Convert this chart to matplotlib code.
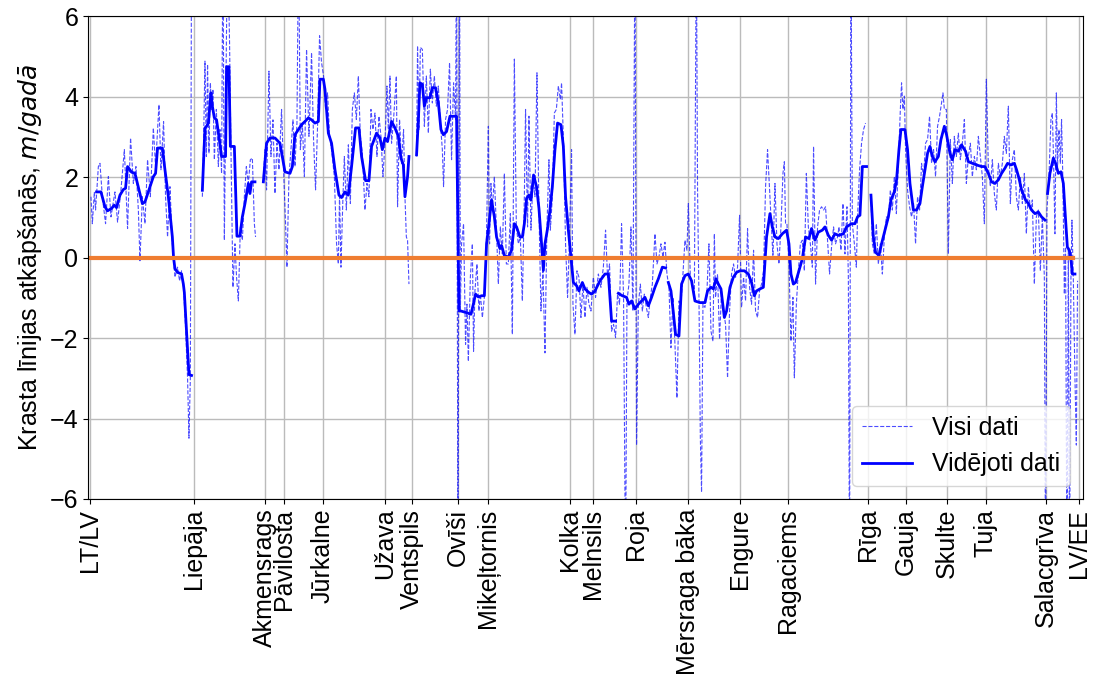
import numpy as np
import matplotlib
matplotlib.use('Agg')
import matplotlib.pyplot as plt

plt.rcParams['font.family'] = ['Liberation Sans', 'DejaVu Sans']
plt.rcParams['font.size'] = 18

nan = np.nan

# Place names along the coast and their distance from LT/LV border (km)
places = ['LT/LV', 'Liepāja', 'Akmensrags', 'Pāvilosta', 'Jūrkalne', 'Užava',
          'Ventspils', 'Ovīši', 'Mikeļtornis', 'Kolka', 'Melnsils', 'Roja',
          'Mērsraga bāka', 'Engure', 'Ragaciems', 'Rīga', 'Gauja', 'Skulte',
          'Tuja', 'Salacgrīva', 'LV/EE']
places_km = [0, 52, 87.5, 97, 116.5, 147.5, 161, 184, 199, 240, 251.5, 273,
             299, 325, 349, 389, 408, 428.5, 448, 478, 494.5]

# All data (m/year), values beyond +-6 are off the chart
raw_km = [
    0.5, 1.2, 2.2, 2.8, 4.2, 5.0, 6.2, 7.8, 9.2, 10.5, 12.5, 13.8, 15.5, 17.2,
    18.8, 20.3, 21.7, 23.0, 24.2, 25.0, 26.2, 27.5, 28.8, 30.2, 31.7, 32.8,
    34.5, 35.5, 36.8, 37.8, 38.8, 40.0, 41.2, 42.5, 43.8, 44.8, 45.8, 46.8,
    47.8, 48.8, 49.5, 50.2, 50.8, 53.0,
    56.2, 56.8, 57.5, 58.2, 58.8, 59.5, 60.2, 60.8, 61.5, 62.2, 63.2, 64.2,
    65.0, 65.8, 66.5, 67.2, 68.2, 68.8, 69.8, 70.5, 71.5, 72.5, 73.3, 74.2,
    75.2, 76.2, 77.2, 78.2, 79.2, 80.2, 81.2, 82.2, 82.8, 84.5,
    86.7, 87.5, 88.3, 89.5, 90.5, 91.5, 92.5, 93.5, 94.5, 95.8, 96.8, 97.8,
    98.5, 99.5, 100.5, 101.5, 102.5, 103.5, 104.3, 105.2, 106.2, 107.2, 108.3,
    109.5, 110.8, 111.8, 112.8, 113.8, 114.8, 115.8, 116.8, 117.8, 118.8,
    119.8, 120.8, 122.2, 123.3, 124.2, 124.8, 125.5,
    126.5, 127.2, 128.2, 129.2, 130.2, 131.2, 132.2, 133.2, 134.2, 135.2,
    136.2, 137.5, 138.5, 139.5, 140.5, 141.5, 142.5, 143.5, 144.5, 145.5,
    146.5, 147.5, 148.5, 149.2, 150.0, 150.8, 151.8, 153.2, 153.8, 154.8,
    155.8, 156.8, 157.5, 158.2, 158.8, 159.5, 161.0,
    163.3, 163.8, 164.5, 165.2, 166.2, 167.2, 168.2, 169.2, 170.2, 171.2,
    172.2, 173.2, 174.2, 175.2, 176.2, 176.8, 177.8, 178.8, 179.8, 180.8,
    181.8, 182.8, 183.3, 184.0, 184.8, 185.2, 185.8, 186.8, 187.8, 188.5,
    189.2, 190.2, 191.2, 191.8, 192.5, 193.5, 194.5, 195.2, 196.2, 197.2,
    198.2, 199.2, 199.8, 200.5, 201.2, 202.2, 203.2, 204.2, 205.2, 206.2,
    207.2, 208.2, 209.2, 210.2, 211.2, 212.2, 213.2, 214.2, 215.2, 216.2,
    217.2, 217.8, 218.8, 219.5, 220.5, 221.5, 222.5, 223.5, 224.5, 225.5,
    226.5, 227.5, 228.5, 229.5, 230.2, 231.2, 232.2, 233.2, 234.2, 235.2,
    235.8, 236.8, 237.8, 238.8, 239.8, 240.8, 241.5, 242.5, 243.5, 244.5,
    245.5, 246.5, 247.5, 248.5, 249.5,
    250.5, 251.7, 252.8, 254.2, 255.5, 256.7, 257.8, 258.8, 259.8, 260.8,
    261.8, 262.8, 263.8, 264.8, 265.8, 266.8, 267.8, 268.5, 269.5, 270.5,
    271.5, 272.5, 273.3, 274.2, 275.2, 276.2, 277.2, 278.2, 279.2, 280.2,
    281.2, 282.5, 283.5, 284.5, 285.5, 286.5, 287.5, 288.5, 289.5, 290.5,
    291.5, 292.5, 293.5, 294.5, 295.5, 296.5, 297.5, 298.5, 299.2, 300.2,
    301.2, 302.2, 303.2, 303.8, 304.5, 305.2, 305.8, 306.5, 307.5, 308.5,
    309.5, 310.5, 311.5, 312.2, 312.8, 313.8, 314.8, 315.8, 316.8, 317.8,
    318.8, 319.8, 320.8, 321.8, 322.8, 323.8, 324.8, 325.8, 326.8, 327.8,
    328.8, 329.8, 330.8, 331.8, 332.8, 333.8, 334.8, 335.8, 336.8, 337.8,
    338.8, 339.5, 340.5, 341.5, 342.5, 343.5, 344.5, 345.5, 346.5, 347.2,
    347.8, 348.5, 349.5, 350.5, 351.5, 352.2, 353.2, 354.2, 355.2, 356.2,
    357.2, 358.2, 359.2, 360.2, 361.2, 361.8, 362.8, 363.8, 364.8, 365.8,
    366.8, 367.8, 368.8, 369.8, 370.8, 371.8, 372.8, 373.8,
    374.5, 375.5, 376.5, 377.5, 378.5, 379.2, 379.8, 380.5, 381.2, 382.2,
    383.2, 383.8, 384.8, 385.8, 386.8, 387.8, 389.0,
    390.5, 391.2, 392.2, 393.2, 394.2, 395.2, 396.2, 397.2, 398.2, 399.2,
    400.2, 401.2, 402.2, 403.2, 404.2, 405.2, 405.8, 406.5, 407.2, 407.8,
    408.8, 409.8, 410.8, 411.8, 412.8, 413.8, 414.8, 415.8, 416.8, 417.8,
    418.8, 419.8, 420.8, 421.8, 422.8, 423.8, 424.8, 425.8, 426.5, 427.2,
    428.2, 429.2, 430.2, 431.2, 432.2, 433.2, 434.2, 435.2, 436.2, 437.2,
    438.2, 439.2, 440.2, 441.2, 442.2, 443.2, 444.2, 445.2, 446.2, 447.2,
    448.2, 449.2, 450.2, 451.2, 452.2, 453.2, 454.2, 455.2, 456.2, 457.2,
    458.2, 459.2, 460.2, 461.2, 462.2, 463.2, 464.2, 465.2, 466.2, 467.2,
    468.2, 469.2, 470.2, 471.2, 472.2, 473.2, 474.2, 475.2, 476.2, 477.2,
    477.8, 478.5, 479.5, 480.5, 481.2, 481.8, 482.5, 483.2, 483.8, 484.5,
    485.2, 485.8, 486.5, 487.2, 487.8, 488.5, 489.2, 489.8, 490.5, 491.0,
    491.7, 492.5, 493.2, 493.8]
raw_val = [
    1.51, 0.84, 1.63, 1.18, 2.26, 2.34, 1.51, 0.84, 2.01, 1.01, 1.63, 0.88, 1.68, 2.68,
    0.72, 2.97, 1.84, 2.26, 1.18, -0.08, 1.51, 0.84, 2.43, 1.51, 3.22, 2.26,
    3.80, 2.18, 3.38, 1.51, 0.51, 1.76, 0.34, -0.49, -0.24, -0.58, -0.33, -0.74,
    -1.74, -2.99, -4.49, -2.99, 8.0, nan,
    1.51, 2.84, 4.88, 2.51, 4.80, 2.59, 4.34, 3.68, 4.18, 2.43, 3.68, 2.26,
    3.18, 2.09, 8.0, 0.43, 5.34, 8.0, 5.34, 2.68, -0.74, 0.34, -0.49, -1.08,
    0.76, 0.43, 1.51, 2.26, 1.84, 2.43, 2.47, 0.84, 0.51, nan,
    2.01, 2.68, 1.68, 4.63, 2.51, 3.42, 1.59, 2.84, 2.18, 3.68, 2.18, 0.84,
    -0.24, 2.01, 2.68, 3.42, 2.26, 3.34, 8.0, 2.68, 3.34, 2.01, 5.17,
    3.01, 5.09, 2.93, 1.68, 3.26, 5.51, 4.84, 4.51, 3.68, 4.09,
    3.01, 2.68, 2.01, 0.34, -0.16, 1.59, -0.24,
    1.51, 2.51, 1.18, 2.80, 1.34, 3.68, 4.09, 3.43, 4.51, 3.01,
    2.59, 1.18, 1.84, 1.51, 3.68, 3.18, 3.59, 2.51, 3.51, 3.01,
    2.01, 2.84, 4.26, 3.18, 4.51, 2.84, 3.43, 4.51, 1.26, 3.43,
    2.34, 3.18, 1.51, 0.51, 0.43, -0.66, nan,
    2.51, 5.26, 3.18, 5.22, 5.17, 3.26, 4.51, 3.09, 4.68, 3.84,
    4.51, 3.76, 4.26, 3.34, 2.68, 1.76, 3.43, 3.68, 4.84, 2.43,
    4.34, 3.43, 8.0, -8.0, 8.0, -1.33, 0.34, 0.84, -2.16, -1.16,
    -2.58, -0.49, 0.34, -2.33, -0.83, -0.16, -1.33, -0.91, -1.49, -0.99,
    0.34, 3.26, 0.34, 1.84, 1.18, 2.01, 0.76, -0.66, 0.76, 0.09,
    2.09, -0.16, -0.16, 1.09, -1.91, 4.93, 0.76, 0.34, 0.51, -1.08,
    1.51, 3.68, 0.76, 3.51, 0.68, 1.93, 1.51, 4.59, 1.18, -1.33,
    -0.33, -2.37, 0.76, 2.43, 0.68, 1.51, 3.59, 3.68, 4.26, 3.93,
    4.34, 2.84, 0.34, -0.99, 0.51, 2.68, -1.16, -1.91, -0.33, -0.49,
    -1.49, -0.66, -1.49, -0.74, -1.16,
    -1.33, -0.49, -0.99, -0.41, -0.74, -0.24, 0.68, -0.49, -0.16, -1.83,
    -1.66, -1.99, -0.91, -1.16, 0.84, -0.99, -8.0, -1.08, -0.66, 0.76,
    -1.33, 8.0, -4.66, -1.16, -0.66, -1.33, -0.91, -1.24, -1.49, -0.99,
    -0.66, 0.59, -0.16, 0.01, 0.34, 0.01, 0.38, -0.41, -0.74, -2.24,
    -0.99, -2.16, -3.49, -1.08, -1.16, -0.41, 0.43, 0.18, 1.34, -0.49,
    -0.66, -0.99, 8.0, 1.68, -0.99, -4.49, -5.83, -1.16, -1.24, -0.83,
    0.34, -1.83, -2.08, 0.59, -0.99, -0.41, -2.03, -0.83, -1.33, -1.66,
    -2.99, -1.33, -0.41, -0.16, -0.49, -0.24, 1.05, -1.24, -0.49, -1.08,
    0.72, -0.74, -1.16, 0.18, -1.33, -1.49, -0.83, -0.66, -0.33, 1.76,
    2.68, 2.01, 1.01, 0.01, 1.84, 0.34, -0.16, 0.76, 2.09, 2.38,
    0.84, 0.84, -0.16, -2.08, -0.99, -2.99, -1.16, -0.33, 0.34, 0.43,
    -0.33, 2.09, 0.76, 0.34, -0.24, 2.76, -0.66, 0.76, 1.18, 1.26,
    1.18, 1.26, 0.43, -0.41, 0.26, 0.76, 0.34, 0.51,
    0.76, 0.18, 1.34, 0.09, 1.26, -0.49, -8.0, 8.0, 0.84, 0.34,
    -0.24, 1.01, 2.18, 2.84, 3.18, 3.34, nan,
    1.51, 0.34, 0.09, 0.84, -0.16, 0.34, -0.41, 0.51, 1.01, 0.93,
    1.68, 1.18, 2.01, 1.09, 2.34, 3.68, 4.34, 3.68, 4.01, 2.68,
    1.68, 1.26, 1.01, 1.34, 0.34, 1.51, 1.18, 2.34, 2.01, 2.84,
    2.93, 3.51, 2.34, 2.68, 2.01, 3.26, 3.51, 3.84, 4.09, 3.68,
    3.68, 0.09, 2.93, 1.84, 3.01, 2.51, 3.09, 2.43, 2.84, 3.43,
    1.84, 2.51, 2.84, 2.01, 2.51, 2.18, 3.01, 2.51, 2.01, 0.84,
    4.43, 2.26, 1.76, 2.43, 1.59, 1.18, 2.34, 2.01, 2.34, 3.01,
    2.59, 3.76, 1.34, 2.43, 2.68, 1.51, 1.18, 2.01, 1.34, 2.09,
    0.59, 1.76, 1.18, 1.43, -0.66, 1.01, 1.18, -0.33, 1.01, -0.49,
    -8.0, 1.18, 2.01, 3.43, 3.59, 2.43, 0.59, 4.09, 2.26, 3.18,
    2.34, 3.43, 1.84, -0.91, 0.26, -8.0, 0.18, -8.0, -0.49, 0.93,
    -0.58, -2.99, -4.66, -0.58]

# Averaged data (m/year), nan marks gaps
avg_km = [
    3.3, 5.5, 7.5, 8.8, 10.8, 12.2, 13.3, 15.0, 16.7, 17.8, 18.8, 20.8, 22.5,
    25.0, 26.2, 27.5, 29.5, 31.7, 32.8, 33.8, 36.2, 37.5, 39.2, 41.2, 41.8,
    42.5, 43.8, 45.8, 46.7, 47.2, 48.3, 49.5, 50.8, 53.0,
    56.2, 57.0, 57.5, 58.3, 59.2, 60.5, 61.2, 62.2, 63.3, 64.5, 65.8, 66.8,
    67.8, 68.3, 69.5, 70.2, 72.2, 73.5, 75.0, 76.2, 77.5, 79.2, 80.0, 80.8,
    82.5, 84.0,
    86.7, 88.3, 90.0, 92.5, 95.0, 97.5, 100.0, 101.2, 102.5, 104.2, 105.8,
    107.5, 109.2, 110.8, 112.5, 114.2, 115.0, 116.7, 117.5, 119.2, 120.8,
    122.5, 124.5, 125.8, 127.5, 129.2, 130.8, 132.8, 134.5, 135.8, 137.8,
    139.5, 140.8, 143.3, 145.0, 146.2, 147.5, 148.8, 150.8, 152.5, 154.2,
    155.5, 156.7, 157.5, 158.8, 159.5, 161.0,
    163.3, 164.2, 165.0, 166.2, 167.2, 168.3, 170.0, 171.2, 172.8, 174.2,
    175.5, 176.7, 178.3, 180.0, 183.3, 184.5, 185.5, 188.3, 190.5, 191.7,
    192.8, 194.2, 195.8, 197.2, 198.3, 199.5, 200.8, 202.2, 203.3, 205.0,
    205.8, 207.2, 209.2, 210.8, 212.2, 213.3, 215.0, 216.2, 217.2, 218.3,
    219.5, 220.5, 221.8, 223.3, 224.5, 225.8, 226.7, 227.5, 228.8, 230.0,
    231.2, 232.5, 233.8, 235.5, 236.7, 237.8, 239.2, 240.5, 241.7, 243.3,
    244.5, 246.2, 247.5, 249.5, 250.8, 252.5, 255.0, 257.5, 259.2, 260.8,
    262.8, 263.5,
    264.2, 266.2, 268.3, 269.5, 270.8, 272.5, 274.2, 275.8, 277.5, 279.2,
    280.8, 282.5, 284.2, 286.2, 287.8, 288.5,
    289.2, 290.5, 291.7, 292.8, 294.5, 295.8, 297.5, 299.2, 300.8, 302.5,
    305.0, 307.5, 308.8, 310.5, 311.7, 313.0, 314.2, 315.5, 317.2, 318.3,
    320.0, 321.7, 323.3, 325.0, 327.2, 329.2, 330.8, 332.2, 333.3, 335.0,
    336.7, 338.3, 340.0, 341.2, 342.5, 344.2, 346.2, 348.3, 349.5, 350.5,
    351.7, 352.8, 354.5, 356.2, 357.8, 359.5, 360.8, 362.5, 364.2, 366.2,
    367.5, 369.2, 370.8, 372.5, 374.2, 376.7, 378.3, 380.8, 382.5, 383.8,
    385.0, 386.2, 388.3, 389.5,
    390.5, 391.7, 392.8, 394.5, 395.8, 397.5, 399.2, 400.5, 402.2, 403.3,
    404.5, 405.5, 407.5, 408.8, 410.0, 411.7, 413.3, 415.0, 416.2, 417.5,
    418.8, 420.0, 421.2, 422.5, 424.2, 425.5, 427.2, 428.3, 430.0, 431.2,
    432.5, 434.2, 435.8, 437.8, 439.2, 441.2, 443.3, 445.8, 447.5, 449.2,
    450.8, 452.5, 454.2, 455.8, 457.5, 458.8, 460.5, 462.2, 463.3, 464.5,
    465.8, 467.8, 469.2, 470.8, 472.5, 474.2, 475.8, 477.5, 478.2,
    478.8, 480.0, 481.7, 482.8, 484.2, 485.5, 486.7, 487.5, 488.7, 489.7,
    490.5, 491.2, 492.5]
avg_val = [
    1.63, 1.63, 1.26, 1.16, 1.22, 1.30, 1.24, 1.55, 1.69, 1.72, 2.26, 2.12, 2.09,
    1.59, 1.34, 1.38, 1.68, 2.01, 2.09, 2.72, 2.72, 2.18, 1.51, 0.51, 0.00,
    -0.28, -0.37, -0.41, -0.66, -0.87, -1.83, -2.91, -2.93, nan,
    1.67, 2.59, 3.22, 3.26, 3.34, 4.09, 3.76, 3.47, 3.42, 3.00, 2.51, 2.51,
    2.51, 4.74, 4.74, 2.76, 2.76, 0.53, 0.53, 1.01, 1.34, 1.84, 1.59, 1.88,
    1.88, nan,
    1.88, 2.84, 2.97, 2.97, 2.84, 2.13, 2.09, 2.26, 3.05, 3.18, 3.30,
    3.38, 3.47, 3.42, 3.34, 3.38, 4.43, 4.43, 4.18, 3.09, 2.84,
    2.18, 1.55, 1.49, 1.63, 1.55, 2.26, 3.22, 3.22, 2.51, 1.91,
    1.91, 2.76, 3.09, 2.97, 2.68, 2.97, 2.88, 3.38, 3.22, 3.01,
    2.47, 2.30, 1.51, 2.01, 2.51, nan,
    2.55, 3.42, 4.34, 4.30, 3.76, 3.97, 3.97, 4.22, 4.22, 3.84,
    3.18, 3.05, 3.13, 3.51, 3.51, -1.33, -1.33, -1.37, -1.41, -1.16,
    -0.91, -0.98, -0.95, -0.95, 0.34, 0.84, 1.43, 1.01, 0.51, 0.22,
    0.30, 0.05, 0.01, 0.18, 0.84, 0.76, 0.51, 0.51, 0.84, 1.47,
    1.55, 1.43, 2.05, 1.76, 1.22, 0.34, -0.32, 0.34, 0.72, 1.18,
    1.76, 2.68, 3.34, 3.30, 2.76, 1.51, 0.68, 0.01, -0.62, -0.70,
    -0.83, -0.62, -0.78, -0.87, -0.91, -0.83, -0.58, -0.41, -0.41, -1.58,
    -1.58, nan,
    -0.89, -0.95, -0.99, -1.16, -1.08, -1.28, -1.16, -1.08, -0.99, -1.20,
    -0.99, -0.74, -0.53, -0.24, -0.26, nan,
    -0.62, -0.83, -1.37, -1.91, -1.95, -0.66, -0.45, -0.41, -0.58, -1.08,
    -1.12, -1.12, -0.83, -0.74, -0.78, -0.53, -0.66, -0.78, -1.49, -1.33,
    -0.74, -0.49, -0.37, -0.33, -0.33, -0.41, -0.62, -0.95, -0.83, -0.78,
    -0.74, 0.51, 1.09, 0.76, 0.51, 0.47, 0.59, 0.68, 0.34, -0.41,
    -0.66, -0.62, -0.33, -0.03, 0.51, 0.47, 0.72, 0.43, 0.63, 0.68,
    0.76, 0.55, 0.43, 0.59, 0.55, 0.59, 0.76, 0.84, 0.84, 1.01,
    1.05, 2.26, 2.26, nan,
    1.55, 0.51, 0.13, 0.05, 0.34, 0.68, 1.01, 1.43, 1.63, 1.93,
    2.68, 3.18, 3.18, 2.68, 1.84, 1.18, 1.18, 1.34, 1.76, 2.18,
    2.59, 2.76, 2.51, 2.38, 2.51, 2.93, 3.26, 3.05, 2.59, 2.43,
    2.68, 2.64, 2.80, 2.64, 2.38, 2.34, 2.30, 2.26, 2.26, 2.09,
    1.88, 1.84, 1.93, 2.09, 2.22, 2.34, 2.30, 2.34, 2.18, 1.97,
    1.68, 1.43, 1.34, 1.18, 1.09, 1.13, 1.01, 0.93, nan,
    1.59, 2.09, 2.47, 2.34, 2.09, 2.13, 1.84, 1.18, 0.26, 0.18,
    -0.03, -0.41, -0.41]

zero_span = [-1, 491.5]

fig = plt.figure(figsize=(10.94, 6.79), dpi=100)
ax = fig.add_axes([0.0804, 0.2651, 0.9095, 0.7113])

ax.plot(raw_km, raw_val, '--', color='blue', lw=0.8, alpha=0.7, label='Visi dati')
ax.plot(avg_km, avg_val, '-', color='blue', lw=2, label='Vidējoti dati')
ax.plot(zero_span, [0, 0], color='#ef7d31', lw=3)

ax.set_xlim(-1, 496.5)
ax.set_ylim(-6, 6)
ax.set_yticks([-6, -4, -2, 0, 2, 4, 6])
ax.set_xticks(places_km)
ax.set_xticklabels(places, rotation=90)
ax.set_ylabel('Krasta līnijas atkāpšanās, $m/gadā$')
ax.grid(True, color='#bbbbbb', lw=1.0)
ax.legend(loc='lower right', fontsize=18)

plt.savefig('out.png', dpi=100)
